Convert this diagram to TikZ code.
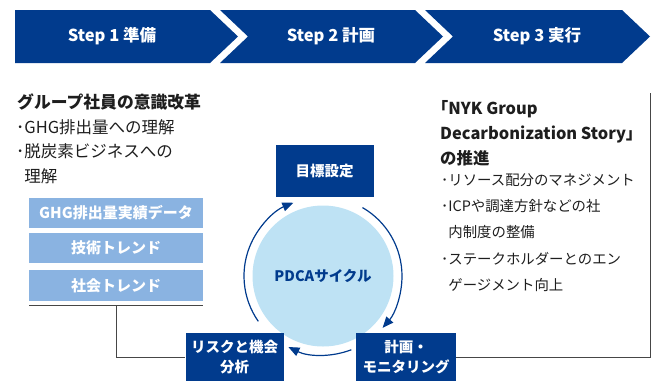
\documentclass[tikz,border=0pt]{standalone}
\usepackage{fontspec}
\setmainfont{Noto Sans CJK JP}
\usepackage{tikz}
\usetikzlibrary{arrows.meta,calc}
\definecolor{nykblue}{RGB}{1,59,141}
\definecolor{nyklight}{RGB}{138,179,225}
\definecolor{cyclefill}{RGB}{190,226,244}
\definecolor{linegrey}{RGB}{70,70,70}
\definecolor{textgrey}{RGB}{30,30,30}

\begin{document}
\begin{tikzpicture}[x=1pt, y=1pt,
    stepfill/.style={fill=nykblue},
    steptext/.style={text=white, font=\fontsize{16.5}{18}\selectfont\bfseries},
    box/.style={rectangle, fill=nykblue, text=white, minimum width=98pt,
        minimum height=50pt, font=\fontsize{14.5}{20}\selectfont\bfseries,
        inner sep=2pt, align=center},
    lbox/.style={rectangle, fill=nyklight, text=white, minimum width=174pt,
        minimum height=30pt, font=\fontsize{15}{16}\selectfont\bfseries, inner sep=2pt},
    txt/.style={text=textgrey, align=left, inner sep=0pt},
    arr/.style={-{Triangle[length=11pt, width=9pt]}, line width=1.2pt, nykblue},
    link/.style={draw=linegrey, line width=1pt}
]
    \useasboundingbox (0,0) rectangle (656,-381);

    \fill[stepfill] (15,-10) -- (210,-10) -- (238,-36.5) -- (210,-63) -- (15,-63) -- cycle;
    \fill[stepfill] (220,-10) -- (415,-10) -- (443,-36.5) -- (415,-63) -- (220,-63) -- (248,-36.5) -- cycle;
    \fill[stepfill] (425,-10) -- (622,-10) -- (650,-36.5) -- (622,-63) -- (425,-63) -- (453,-36.5) -- cycle;
    \node[steptext] (s1) at (112,-36.5) {Step 1 準備};
    \node[steptext] (s2) at (331,-36.5) {Step 2 計画};
    \node[steptext] (s3) at (537,-36.5) {Step 3 実行};

    \node[txt, anchor=west, font=\fontsize{16.8}{20}\selectfont\bfseries] (lhead) at (17,-102) {グループ社員の意識改革};
    \node[txt, anchor=north west, font=\fontsize{16.5}{24.5}\selectfont] (llist) at (16,-119)
        {･GHG排出量への理解\\･脱炭素ビジネスへの\\\phantom{･}理解};

    \node[lbox, minimum height=30pt] (data) at (116,-213) {GHG排出量実績データ};
    \node[lbox, minimum height=30pt] (tech) at (116,-248) {技術トレンド};
    \node[lbox, minimum height=31pt] (soc) at (116,-285.5) {社会トレンド};
    \coordinate (baseL) at (29,-305);
    \coordinate (baseR) at (203,-305);
    \coordinate (split) at (116,-305);

    \node[circle, fill=cyclefill, minimum size=141pt, inner sep=0pt, text=nykblue,
        font=\fontsize{14.5}{16}\selectfont\bfseries] (cyc) at (323,-276) {PDCAサイクル};
    \draw[arr] ([shift={(215:79)}]cyc.center) arc[start angle=215, end angle=112, radius=79];
    \draw[arr] ([shift={(60:79)}]cyc.center) arc[start angle=60, end angle=-41, radius=79];
    \draw[arr] ([shift={(-69:79)}]cyc.center) arc[start angle=-69, end angle=-116, radius=79];

    \node[box, minimum height=52pt] (goal) at (324.5,-171) {目標設定};
    \node[box, minimum height=48pt] (risk) at (234.5,-357) {リスクと機会\\分析};
    \node[box, minimum height=48pt, minimum width=100pt] (plan) at (406,-357) {計画・\\モニタリング};

    \node[txt, anchor=north west, font=\fontsize{16.4}{25}\selectfont\bfseries] (rhead) at (440,-100)
        {｢NYK Group\\Decarbonization Story｣\\の推進};
    \node[txt, anchor=north west, font=\fontsize{14.4}{26.2}\selectfont] (rlist) at (441,-173.5)
        {･リソース配分のマネジメント\\･ICPや調達方針などの社\\\phantom{･}内制度の整備\\･ステークホルダーとのエン\\\phantom{･}ゲージメント向上};
    \coordinate (rtop) at (650,-93);

    \draw[link] (baseL) -- (baseR);
    \draw[link] (split) |- (risk.west);
    \draw[link] (plan.east) -| (rtop);
\end{tikzpicture}
\end{document}
